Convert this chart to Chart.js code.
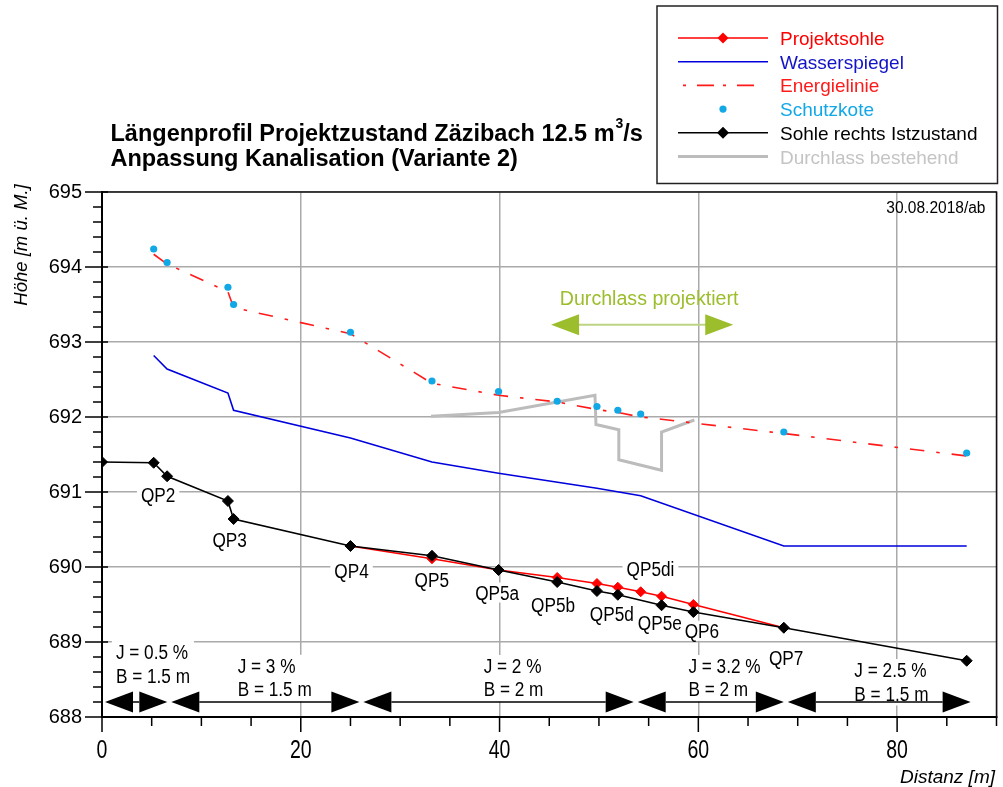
<!DOCTYPE html>
<html>
<head>
<meta charset="utf-8">
<script src="https://cdn.jsdelivr.net/npm/chart.js@4.4.0/dist/chart.umd.min.js"></script>
<style>
  body { margin: 0; background: #fff; }
</style>
</head>
<body>
<canvas id="profil" width="1003" height="787"></canvas>
<script>
// Sohle rechts Istzustand (Distanz [m] / Höhe [m ü. M.])
const sohleX = [0, 5.2, 6.55, 12.67, 13.24, 25, 33.2, 39.9, 45.8, 49.8, 51.9, 56.3, 59.5, 68.6, 87];
const sohleY = [691.4, 691.39, 691.21, 690.88, 690.64, 690.28, 690.15, 689.96, 689.8, 689.68, 689.63, 689.49, 689.4, 689.19, 688.75];

// Projektsohle
const projX = [25, 33.2, 39.9, 45.8, 49.8, 51.9, 54.2, 56.3, 59.5, 68.6];
const projY = [690.28, 690.11, 689.96, 689.86, 689.78, 689.73, 689.67, 689.61, 689.5, 689.19];

// Wasserspiegel
const wspX = [5.2, 6.55, 12.67, 13.24, 25, 33.2, 39.9, 49.8, 54.2, 68.6, 87];
const wspY = [692.82, 692.64, 692.32, 692.09, 691.72, 691.4, 691.25, 691.05, 690.95, 690.28, 690.28];

// Energielinie
const enX = [5.2, 6.55, 12.67, 13.24, 25, 33.2, 39.9, 45.8, 49.8, 51.9, 54.2, 56.3, 59.5, 68.6, 87];
const enY = [694.17, 694.04, 693.67, 693.46, 693.11, 692.45, 692.29, 692.2, 692.1, 692.06, 692.0, 691.97, 691.92, 691.78, 691.48];

// Schutzkote
const schutzX = [5.2, 6.55, 12.67, 13.24, 25, 33.2, 39.9, 45.8, 49.8, 51.9, 54.2, 68.6, 87];
const schutzY = [694.24, 694.06, 693.73, 693.5, 693.13, 692.48, 692.34, 692.21, 692.14, 692.09, 692.04, 691.8, 691.52];

// Durchlass bestehend
const durchX = [33.1, 39.9, 49.6, 49.7, 52.0, 52.0, 56.3, 56.3, 59.6];
const durchY = [692.01, 692.06, 692.29, 691.9, 691.83, 691.43, 691.29, 691.8, 691.96];

// Querprofil-Bezeichnungen (Lage der Beschriftung)
const qpNames = ['QP2', 'QP3', 'QP4', 'QP5', 'QP5a', 'QP5b', 'QP5d', 'QP5di', 'QP5e', 'QP6', 'QP7'];
const qpLabelX = [5.65, 12.84, 25.11, 33.18, 39.76, 45.38, 51.3, 55.18, 56.12, 60.36, 68.83];
const qpLabelY = [690.96, 690.36, 689.95, 689.83, 689.66, 689.49, 689.38, 689.97, 689.25, 689.15, 688.79];

// Abschnitte: Gefälle und Breite
const reachBounds = [0.1, 6.77, 26.1, 53.7, 68.8, 87.6];
const reachLevel = 688.2;
const slopeLabels = ['J = 0.5 %', 'J = 3 %', 'J = 2 %', 'J = 3.2 %', 'J = 2.5 %'];
const widthLabels = ['B = 1.5 m', 'B = 1.5 m', 'B = 2 m', 'B = 2 m', 'B = 1.5 m'];
const reachLabelX = [1.4, 13.65, 38.4, 59.0, 75.7];
const reachLabelY = [688.773, 688.59, 688.587, 688.587, 688.533];

// Durchlass projektiert
const durchlassNeuFrom = 45.18;
const durchlassNeuTo = 63.51;
const durchlassNeuLevel = 693.23;

const xTickLabels = [0, 20, 40, 60, 80];

const FONT = '"Liberation Sans", Arial, Helvetica, sans-serif';
const SQUEEZE = 0.86;
Chart.defaults.font.family = FONT;

const pairs = (xs, ys) => xs.map((v, i) => ({ x: v, y: ys[i] }));

function drawText(ctx, txt, x, y, font, color, align, squeeze) {
  ctx.save();
  ctx.font = font;
  ctx.fillStyle = color;
  ctx.textBaseline = 'alphabetic';
  ctx.textAlign = 'left';
  const w = ctx.measureText(txt).width * squeeze;
  let left = x;
  if (align === 'center') left = x - w / 2;
  if (align === 'right') left = x - w;
  ctx.translate(left, y);
  ctx.scale(squeeze, 1);
  ctx.fillText(txt, 0, 0);
  ctx.restore();
  return w;
}

function textWidth(ctx, txt, font, squeeze) {
  ctx.save();
  ctx.font = font;
  const w = ctx.measureText(txt).width * squeeze;
  ctx.restore();
  return w;
}

function triangle(ctx, tipX, cy, dir, w, h) {
  ctx.beginPath();
  ctx.moveTo(tipX, cy);
  ctx.lineTo(tipX + dir * w, cy - h / 2);
  ctx.lineTo(tipX + dir * w, cy + h / 2);
  ctx.closePath();
  ctx.fill();
}

function diamond(ctx, cx, cy, r) {
  ctx.beginPath();
  ctx.moveTo(cx - r, cy);
  ctx.lineTo(cx, cy - r);
  ctx.lineTo(cx + r, cy);
  ctx.lineTo(cx, cy + r);
  ctx.closePath();
  ctx.fill();
}

const labelFont = '20px ' + FONT;

const profilDeko = {
  id: 'profilDeko',
  beforeDatasetsDraw(chart) {
    const { ctx } = chart;
    const xs = chart.scales.x, ys = chart.scales.y;
    ctx.save();
    ctx.fillStyle = '#fff';
    qpNames.forEach((n, i) => {
      const w = textWidth(ctx, n, labelFont, SQUEEZE);
      const cx = xs.getPixelForValue(qpLabelX[i]);
      const cy = ys.getPixelForValue(qpLabelY[i]);
      ctx.fillRect(cx - w / 2 - 4, cy - 10, w + 8, 20);
    });
    slopeLabels.forEach((t, i) => {
      const w = Math.max(textWidth(ctx, t, labelFont, SQUEEZE), textWidth(ctx, widthLabels[i], labelFont, SQUEEZE));
      const lx = xs.getPixelForValue(reachLabelX[i]);
      const by = ys.getPixelForValue(reachLabelY[i]);
      ctx.fillRect(lx - 4, by - 18, w + 8, 23.5 + 23);
    });
    ctx.restore();
  },
  afterDatasetsDraw(chart) {
    const { ctx, chartArea: a } = chart;
    const xs = chart.scales.x, ys = chart.scales.y;
    ctx.save();

    // Rahmen oben / rechts
    ctx.strokeStyle = '#111';
    ctx.lineWidth = 1.5;
    ctx.beginPath();
    ctx.moveTo(a.left, a.top);
    ctx.lineTo(a.right, a.top);
    ctx.lineTo(a.right, a.bottom);
    ctx.stroke();

    // Teilstriche
    ctx.strokeStyle = '#000';
    ctx.lineWidth = 1.5;
    ctx.beginPath();
    for (let v = 0; v <= 90; v += 5) {
      const px = xs.getPixelForValue(v);
      ctx.moveTo(px, a.bottom);
      ctx.lineTo(px, a.bottom + (v % 20 === 0 ? 15 : 9));
    }
    for (let k = 0; k <= 35; k++) {
      const v = 688 + k * 0.2;
      const py = ys.getPixelForValue(v);
      const major = k % 5 === 0;
      ctx.moveTo(a.left - (major ? 17 : 9), py);
      ctx.lineTo(a.left + (major ? 6 : 0), py);
    }
    ctx.stroke();

    // x-Beschriftung
    xTickLabels.forEach(v => {
      drawText(ctx, String(v), xs.getPixelForValue(v), 758, '25px ' + FONT, '#000', 'center', 0.78);
    });

    // Abschnittspfeile
    const ay = ys.getPixelForValue(reachLevel);
    ctx.fillStyle = '#000';
    ctx.strokeStyle = '#000';
    ctx.lineWidth = 1.5;
    for (let i = 0; i < reachBounds.length - 1; i++) {
      const p0 = xs.getPixelForValue(reachBounds[i]) + 2;
      const p1 = xs.getPixelForValue(reachBounds[i + 1]) - 2;
      ctx.beginPath();
      ctx.moveTo(p0 + 28, ay);
      ctx.lineTo(p1 - 28, ay);
      ctx.stroke();
      triangle(ctx, p0, ay, 1, 28, 21);
      triangle(ctx, p1, ay, -1, 28, 21);
    }
    slopeLabels.forEach((t, i) => {
      const lx = xs.getPixelForValue(reachLabelX[i]);
      const by = ys.getPixelForValue(reachLabelY[i]);
      drawText(ctx, t, lx, by, labelFont, '#000', 'left', SQUEEZE);
      drawText(ctx, widthLabels[i], lx, by + 23.5, labelFont, '#000', 'left', SQUEEZE);
    });

    // Querprofile
    qpNames.forEach((n, i) => {
      const cx = xs.getPixelForValue(qpLabelX[i]);
      const cy = ys.getPixelForValue(qpLabelY[i]);
      drawText(ctx, n, cx, cy + 7, labelFont, '#000', 'center', SQUEEZE);
    });

    // Durchlass projektiert
    const g0 = xs.getPixelForValue(durchlassNeuFrom);
    const g1 = xs.getPixelForValue(durchlassNeuTo);
    const gy = ys.getPixelForValue(durchlassNeuLevel);
    ctx.strokeStyle = '#bdd483';
    ctx.lineWidth = 2;
    ctx.beginPath();
    ctx.moveTo(g0 + 27, gy);
    ctx.lineTo(g1 - 27, gy);
    ctx.stroke();
    ctx.fillStyle = '#9cbd2c';
    triangle(ctx, g0, gy, 1, 28, 21);
    triangle(ctx, g1, gy, -1, 28, 21);
    drawText(ctx, 'Durchlass projektiert', (g0 + g1) / 2 + 7, gy - 20, '20px ' + FONT, '#9cbd2c', 'center', 0.98);

    // Datum
    drawText(ctx, '30.08.2018/ab', a.right - 11, a.top + 21, '16px ' + FONT, '#000', 'right', 0.97);

    ctx.restore();
  },
  afterDraw(chart) {
    const { ctx } = chart;
    ctx.save();

    // Achsentitel
    ctx.save();
    ctx.translate(27, 245);
    ctx.rotate(-Math.PI / 2);
    ctx.font = 'italic 18.5px ' + FONT;
    ctx.fillStyle = '#000';
    ctx.textAlign = 'center';
    ctx.textBaseline = 'alphabetic';
    ctx.fillText('Höhe [m ü. M.]', 0, 0);
    ctx.restore();
    drawText(ctx, 'Distanz [m]', 995, 783, 'italic 19px ' + FONT, '#000', 'right', 1);

    // Titel
    const tf = 'bold 23.5px ' + FONT;
    let tx = 110.5;
    tx += drawText(ctx, 'Längenprofil Projektzustand Zäzibach 12.5 m', tx, 141, tf, '#000', 'left', 1);
    tx += drawText(ctx, '3', tx + 1, 128, 'bold 14px ' + FONT, '#000', 'left', 1) + 1;
    drawText(ctx, '/s', tx, 141, tf, '#000', 'left', 1);
    drawText(ctx, 'Anpassung Kanalisation (Variante 2)', 110.5, 166, tf, '#000', 'left', 1);

    // Legende
    ctx.strokeStyle = '#222';
    ctx.lineWidth = 1.5;
    ctx.strokeRect(657, 6, 340.5, 177.5);
    const ds = chart.data.datasets;
    const find = l => ds.find(d => d.label === l);
    const items = [
      { l: 'Projektsohle', c: '#ff0000' },
      { l: 'Wasserspiegel', c: '#1212c8' },
      { l: 'Energielinie', c: '#ff1a1a' },
      { l: 'Schutzkote', c: '#12a8e6' },
      { l: 'Sohle rechts Istzustand', c: '#000' },
      { l: 'Durchlass bestehend', c: '#c4c4c4' }
    ];
    items.forEach((it, i) => {
      const d = find(it.l);
      const cy = 38 + i * 23.7;
      if (d.showLine !== false) {
        ctx.save();
        ctx.strokeStyle = d.borderColor;
        ctx.lineWidth = d.borderWidth;
        if (d.borderDash) ctx.setLineDash([3, 11, 17, 9]);
        ctx.beginPath();
        if (d.borderDash) { ctx.moveTo(683, cy); ctx.lineTo(756, cy); }
        else { ctx.moveTo(678, cy); ctx.lineTo(768, cy); }
        ctx.stroke();
        ctx.restore();
      }
      if (d.pointRadius > 0) {
        ctx.fillStyle = d.backgroundColor;
        if (d.pointStyle === 'rectRot') diamond(ctx, 723, cy, d.pointRadius + 0.5);
        else { ctx.beginPath(); ctx.arc(723, cy, d.pointRadius, 0, Math.PI * 2); ctx.fill(); }
      }
      drawText(ctx, it.l, 780, cy + 7, '19px ' + FONT, it.c, 'left', 1);
    });

    ctx.restore();
  }
};

const gridStyle = { color: '#aaaaaa', lineWidth: 1.5, drawTicks: false };

new Chart(document.getElementById('profil'), {
  type: 'line',
  data: {
    datasets: [
      { label: 'Sohle rechts Istzustand', data: pairs(sohleX, sohleY), borderColor: '#000', backgroundColor: '#000',
        borderWidth: 1.6, pointStyle: 'rectRot', pointRadius: 5.5, pointBorderWidth: 1, order: 0 },
      { label: 'Projektsohle', data: pairs(projX, projY), borderColor: '#ff0000', backgroundColor: '#ff0000',
        borderWidth: 1.6, pointStyle: 'rectRot', pointRadius: 5, pointBorderWidth: 1, order: 1 },
      { label: 'Schutzkote', data: pairs(schutzX, schutzY), showLine: false, borderColor: '#12a8e6', backgroundColor: '#12a8e6',
        pointStyle: 'circle', pointRadius: 3.6, pointBorderWidth: 0, order: 2 },
      { label: 'Wasserspiegel', data: pairs(wspX, wspY), borderColor: '#0000dd', backgroundColor: '#0000dd',
        borderWidth: 1.6, pointRadius: 0, order: 3 },
      { label: 'Energielinie', data: pairs(enX, enY), borderColor: '#ff1a1a', backgroundColor: '#ff1a1a',
        borderWidth: 1.6, borderDash: [14.5, 12, 3.5, 12], pointRadius: 0, order: 4 },
      { label: 'Durchlass bestehend', data: pairs(durchX, durchY), borderColor: '#bcbcbc', backgroundColor: '#bcbcbc',
        borderWidth: 3, pointRadius: 0, order: 5 }
    ]
  },
  options: {
    responsive: false,
    animation: false,
    devicePixelRatio: 1,
    layout: { padding: { top: 192, right: 4, bottom: 0, left: 0 } },
    plugins: { legend: { display: false }, tooltip: { enabled: false } },
    scales: {
      x: {
        type: 'linear', min: 0, max: 90,
        ticks: { display: false, stepSize: 20 },
        grid: gridStyle,
        border: { color: '#000', width: 2 },
        afterFit: s => { s.height = 70; }
      },
      y: {
        min: 688, max: 695,
        ticks: { stepSize: 1, padding: 20, color: '#000', font: { size: 20, family: FONT } },
        grid: gridStyle,
        border: { color: '#000', width: 2 },
        afterFit: s => { s.width = 102; }
      }
    }
  },
  plugins: [profilDeko]
});
</script>
</body>
</html>
